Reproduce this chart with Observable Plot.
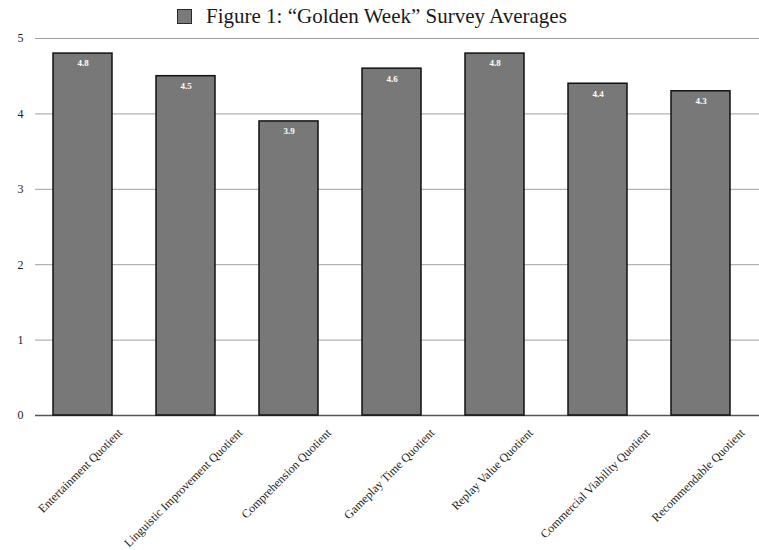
<!DOCTYPE html>
<html>
<head>
<meta charset="utf-8">
<script src="https://cdn.jsdelivr.net/npm/d3@7"></script>
<script src="https://cdn.jsdelivr.net/npm/@observablehq/plot@0.6"></script>
<style>
  html, body { margin: 0; padding: 0; background: white; }
  #wrap { width: 759px; height: 550px; overflow: hidden; background: white; }
  #title { height: 32px; display: flex; align-items: center; padding-left: 177px; box-sizing: border-box;
           font-family: "Liberation Serif", serif; font-size: 21px; color: #1a1a1a; }
  #title .sw { width: 13px; height: 13px; background: #7a7a7a; border: 1.5px solid #2a2a2a; margin-right: 14px; margin-top: 1px; }
</style>
</head>
<body>
<div id="wrap">
  <div id="title"><span class="sw"></span><span id="titleText"></span></div>
  <div id="chart"></div>
</div>
<script>
const seriesName = "Figure 1: \u201cGolden Week\u201d Survey Averages";
const categories = [
  "Entertainment Quotient",
  "Linguistic Improvement Quotient",
  "Comprehension Quotient",
  "Gameplay Time Quotient",
  "Replay Value Quotient",
  "Commercial Viability Quotient",
  "Recommendable Quotient"
];
const values = [4.8, 4.5, 3.9, 4.6, 4.8, 4.4, 4.3];
const yTicks = [0, 1, 2, 3, 4, 5];

const data = categories.map((c, i) => ({category: c, value: values[i]}));

document.getElementById("titleText").textContent = seriesName;

const chart = Plot.plot({
  width: 759,
  height: 518,
  marginTop: 6,
  marginBottom: 135,
  marginLeft: 35,
  marginRight: 0,
  style: {fontFamily: "Liberation Serif, serif", fontSize: "12px", background: "white", color: "#222"},
  x: {domain: categories, paddingInner: 0.43, paddingOuter: 0.215, insetLeft: -5, insetRight: 7, axis: null},
  y: {domain: [0, 5], ticks: yTicks, tickSize: 0, tickPadding: 12, label: null, tickFormat: d => String(d)},
  marks: [
    Plot.ruleY(yTicks.filter(d => d > 0), {stroke: "#a0a0a0", strokeWidth: 1}),
    Plot.ruleY([0], {stroke: "#555", strokeWidth: 1.5}),
    Plot.barY(data, {x: "category", y: "value", fill: "#787878", stroke: "#111", strokeWidth: 1.5}),
    Plot.text(data, {x: "category", y: "value", text: d => d.value.toFixed(1), dy: 10, fill: "white", fontSize: 9, fontWeight: "bold"}),
    Plot.text(categories, {x: d => d, text: d => d, frameAnchor: "bottom", rotate: -45, textAnchor: "middle", fontSize: 12, fill: "#222"})
  ]
});
document.getElementById("chart").appendChild(chart);

// Center each rotated category label under its bar, its top just below the axis
// (the mark's group is already offset by half a band, so use the band start here)
const xs = chart.scale("x");
const ys = chart.scale("y");
const y0 = ys.apply(0);
d3.select(chart).selectAll("text").each(function() {
  const c = this.textContent;
  if (!categories.includes(c)) return;
  const L = this.getComputedTextLength();
  const cx = xs.apply(c);
  const off = 15 + 0.3536 * (L + 9);
  this.setAttribute("transform", `translate(${cx},${y0 + off}) rotate(-45)`);
  this.removeAttribute("x");
});
</script>
</body>
</html>
